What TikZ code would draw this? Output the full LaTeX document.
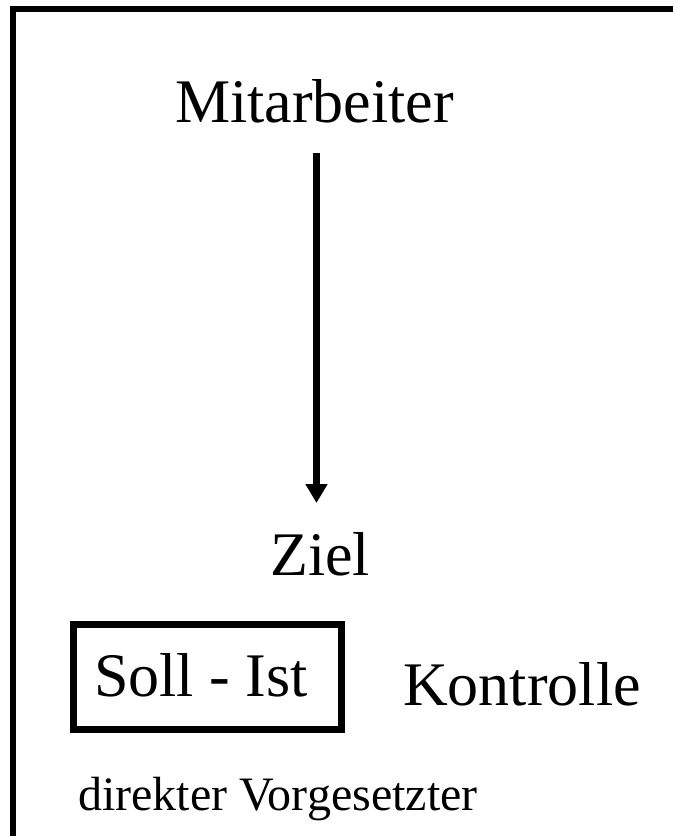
\documentclass[tikz,border=0pt]{standalone}
\usepackage{fontspec}
\setmainfont{Liberation Serif}
\usetikzlibrary{arrows.meta}
\tikzset{
  bigtext/.style={inner sep=0pt, font=\fontsize{62}{70}\selectfont},
  smalltext/.style={inner sep=0pt, font=\fontsize{48}{56}\selectfont},
  arrowline/.style={line width=7pt, -{Triangle[length=19pt,width=21pt]}}
}
\begin{document}
\begin{tikzpicture}[x=1pt,y=-1pt]
                \useasboundingbox (0,0) rectangle (673,836);
                
                % Drawing frame (left and top)
                \draw [line width=6pt] (13,836) -- (13,9) -- (673,9);%
                
                % Placing labels
                \node [bigtext, draw, line width=7pt, minimum width=268pt, minimum height=105pt] (sollist) at (207,677) {};%
                \node [bigtext, anchor=base west] (soll) at (94,696) {Soll - Ist};%
                \node [bigtext, anchor=base west] (mit) at (175,122) {Mitarbeiter};%
                \node [bigtext, anchor=base west] (ziel) at (270,575) {Ziel};%
                \node [bigtext, anchor=base west] (kontrolle) at (403,705) {Kontrolle};%
                \node [smalltext, anchor=base west] (vorgesetzter) at (78,810) {direkter Vorgesetzter};%
                
                % Drawing arrow Mitarbeiter Ziel
                \coordinate (axis) at (316.5,0);
                \draw [arrowline] ([yshift=-31pt]axis |- mit.base) -- ([yshift=72pt]axis |- ziel.base);%
            \end{tikzpicture}
\end{document}
